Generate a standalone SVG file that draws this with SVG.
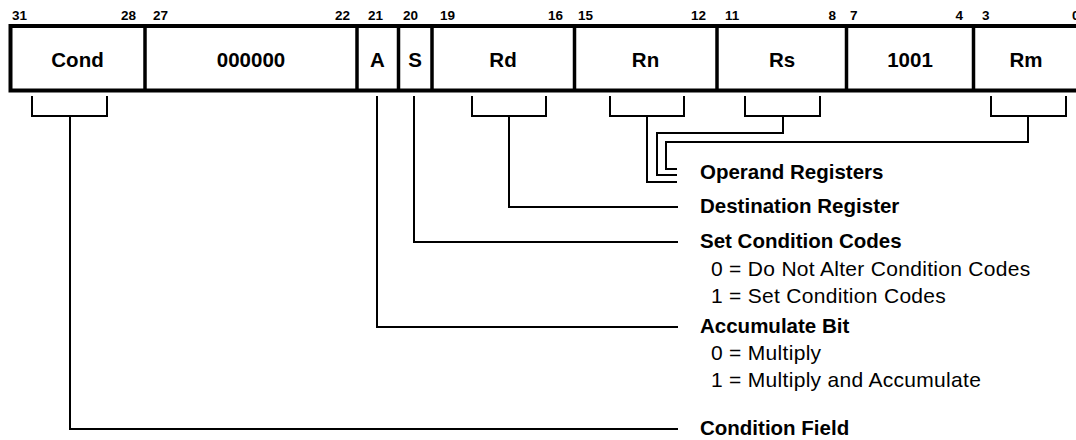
<svg xmlns="http://www.w3.org/2000/svg" width="1076" height="440" viewBox="0 0 1076 440">
<style>
.bit{font-family:"Liberation Sans",Arial,sans-serif;font-weight:bold;font-size:13.5px;fill:#000}
.fld{font-family:"Liberation Sans",Arial,sans-serif;font-weight:bold;font-size:20.5px;fill:#000;text-anchor:middle}
.lbl{font-family:"Liberation Sans",Arial,sans-serif;font-weight:bold;font-size:20.5px;fill:#000}
.sub{font-family:"Liberation Sans",Arial,sans-serif;font-size:21px;letter-spacing:0.3px;fill:#000}
.box{fill:#fff;stroke:#000;stroke-width:4}
.div{stroke:#000;stroke-width:3.5}
.con{fill:none;stroke:#000;stroke-width:2}
</style>
<rect width="1076" height="440" fill="#fff"/>
<g id="bits">
<text class="bit" x="12" y="20">31</text>
<text class="bit" x="136" y="20" text-anchor="end">28</text>
<text class="bit" x="153" y="20">27</text>
<text class="bit" x="350" y="20" text-anchor="end">22</text>
<text class="bit" x="368" y="20">21</text>
<text class="bit" x="403" y="20">20</text>
<text class="bit" x="440" y="20">19</text>
<text class="bit" x="563" y="20" text-anchor="end">16</text>
<text class="bit" x="578" y="20">15</text>
<text class="bit" x="706" y="20" text-anchor="end">12</text>
<text class="bit" x="725" y="20">11</text>
<text class="bit" x="836" y="20" text-anchor="end">8</text>
<text class="bit" x="850" y="20">7</text>
<text class="bit" x="963" y="20" text-anchor="end">4</text>
<text class="bit" x="982" y="20">3</text>
<text class="bit" x="1072" y="20">0</text>
</g>
<g id="register">
<rect class="box" x="10.5" y="26" width="1070" height="64.5"/>
<line class="div" x1="145" y1="26" x2="145" y2="90.5"/>
<line class="div" x1="357" y1="26" x2="357" y2="90.5"/>
<line class="div" x1="398.5" y1="26" x2="398.5" y2="90.5"/>
<line class="div" x1="432" y1="26" x2="432" y2="90.5"/>
<line class="div" x1="574.5" y1="26" x2="574.5" y2="90.5"/>
<line class="div" x1="717" y1="26" x2="717" y2="90.5"/>
<line class="div" x1="846.5" y1="26" x2="846.5" y2="90.5"/>
<line class="div" x1="973.5" y1="26" x2="973.5" y2="90.5"/>
</g>
<g id="field-cond"><text class="fld" x="77.5" y="67">Cond</text></g>
<g id="field-zero"><text class="fld" x="251" y="67">000000</text></g>
<g id="field-a"><text class="fld" x="377.5" y="67">A</text></g>
<g id="field-s"><text class="fld" x="415" y="67">S</text></g>
<g id="field-rd"><text class="fld" x="503" y="67">Rd</text></g>
<g id="field-rn"><text class="fld" x="645.5" y="67">Rn</text></g>
<g id="field-rs"><text class="fld" x="782" y="67">Rs</text></g>
<g id="field-1001"><text class="fld" x="910" y="67">1001</text></g>
<g id="field-rm"><text class="fld" x="1026" y="67">Rm</text></g>
<g id="connectors">
<polyline class="con" points="32,96 32,116 107,116 107,96"/>
<polyline class="con" points="472,96 472,116 546,116 546,96"/>
<polyline class="con" points="610,96 610,116 684,116 684,96"/>
<polyline class="con" points="745,96 745,116 820,116 820,96"/>
<polyline class="con" points="991,96 991,116 1066,116 1066,96"/>
<polyline class="con" points="647,116 647,182 677,182"/>
<polyline class="con" points="783,116 783,133 657,133 657,175 677,175"/>
<polyline class="con" points="1028,116 1028,142 666,142 666,169 677,169"/>
<polyline class="con" points="509,116 509,207 678,207"/>
<polyline class="con" points="414,96 414,242 678,242"/>
<polyline class="con" points="377,96 377,327 678,327"/>
<polyline class="con" points="70,116 70,429 678,429"/>
</g>
<g id="label-operand"><text class="lbl" x="700" y="179">Operand Registers</text></g>
<g id="label-dest"><text class="lbl" x="700" y="213">Destination Register</text></g>
<g id="label-setcc">
<text class="lbl" x="700" y="248">Set Condition Codes</text>
<text class="sub" x="711" y="276">0 = Do Not Alter Condition Codes</text>
<text class="sub" x="711" y="303">1 = Set Condition Codes</text>
</g>
<g id="label-acc">
<text class="lbl" x="700" y="333">Accumulate Bit</text>
<text class="sub" x="711" y="360">0 = Multiply</text>
<text class="sub" x="711" y="387">1 = Multiply and Accumulate</text>
</g>
<g id="label-cond"><text class="lbl" x="700" y="435">Condition Field</text></g>
</svg>
